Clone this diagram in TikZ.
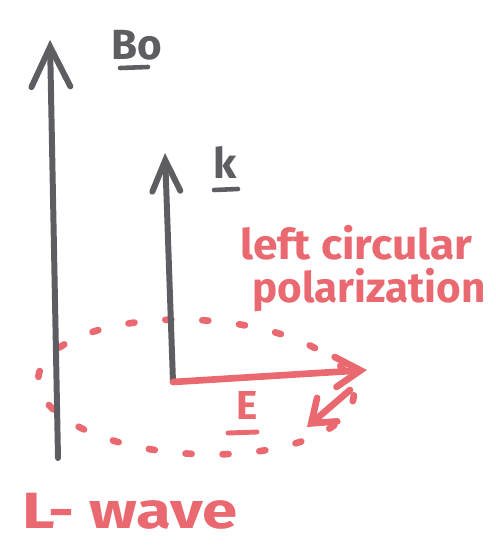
\documentclass[tikz,border=0pt]{standalone}
\usepackage{fontspec}
\setmainfont{Fira Sans}
\usetikzlibrary{arrows.meta}
\definecolor{pen}{HTML}{5E5E62}
\definecolor{redpen}{HTML}{EA6870}
\tikzset{
  grayline/.style={draw=pen, line width=3.4pt, line cap=round, line join=round},
  redline/.style={draw=redpen, line width=3.8pt, line cap=round, line join=round},
  graylabel/.style={text=pen, font=\fontsize{24}{26}\selectfont\bfseries, inner sep=0pt},
  redlabel/.style={text=redpen, font=\fontsize{24}{26}\selectfont\bfseries, inner sep=0pt, anchor=west},
}
\begin{document}
\begin{tikzpicture}[x=0.02cm, y=-0.02cm]
\useasboundingbox (0,0) rectangle (495,545);
% coordinates
\coordinate (b0base) at (58,458);
\coordinate (b0tip) at (50,40);
\coordinate (kbase) at (173,382);
\coordinate (ktip) at (165,153);
\coordinate (etip) at (367,370);
\coordinate (rotstart) at (350,390);
\coordinate (rottip) at (307,427);
% dotted ellipse
\draw[redline, dash pattern=on 0.12cm off 0.62cm, rotate around={-3:(196,387)}] (196,387) ellipse [x radius=158, y radius=67];
% B0 arrow
\draw[grayline, -{Straight Barb[length=0.8cm, width=0.78cm, line cap=round]}] (b0base) -- (b0tip);
\node[graylabel] (b0lbl) at (137,45) {Bo};
\draw[grayline, line width=2.6pt] (120,68) -- (148,67);
% k arrow
\draw[grayline, -{Straight Barb[length=0.62cm, width=0.56cm, line cap=round]}] (kbase) -- (ktip);
\node[graylabel] (klbl) at (225,162) {k};
\draw[grayline, line width=2.6pt] (214,190) -- (238,189);
% E arrow
\draw[redline, -{Straight Barb[length=0.5cm, width=0.6cm, line cap=round]}] (kbase) -- (etip);
\node[text=redpen, font=\fontsize{23}{24}\selectfont\bfseries, inner sep=0pt] (elbl) at (247,405) {E};
\draw[redline, line width=2.8pt] (228,433) -- (257,432);
% rotation arrow
\draw[redline, -{Straight Barb[length=0.42cm, width=0.62cm, line cap=round]}] (rotstart) -- (rottip);
% labels
\node[redlabel, xscale=1.05] (lcirc) at (240,243) {left circular};
\node[redlabel] (lpol) at (252,290) {polarization};
\node[redlabel, anchor=south west, xscale=1.25, font=\fontsize{29}{31}\selectfont\bfseries] (lwave) at (22,530) {L- wave};
\end{tikzpicture}
\end{document}
